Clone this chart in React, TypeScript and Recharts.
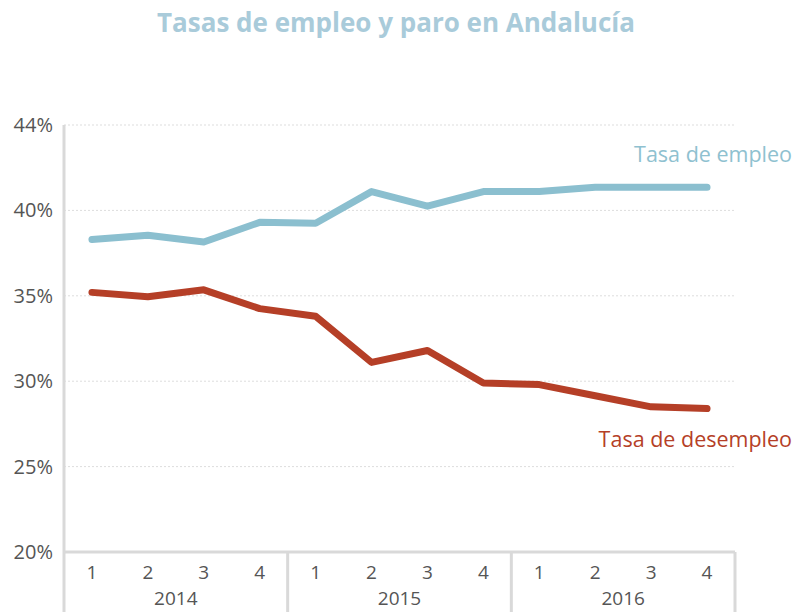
import { LineChart, Line, XAxis, YAxis, CartesianGrid, LabelList } from 'recharts';

// Quarterly rates (%), 2014 Q1 .. 2016 Q4
const quarters = ['1', '2', '3', '4', '1', '2', '3', '4', '1', '2', '3', '4'];
const years = ['2014', '2014', '2014', '2014', '2015', '2015', '2015', '2015', '2016', '2016', '2016', '2016'];
const employmentRate = [38.3, 38.55, 38.15, 39.3, 39.25, 41.1, 40.25, 41.1, 41.1, 41.35, 41.35, 41.35];
const unemploymentRate = [35.2, 34.95, 35.35, 34.25, 33.8, 31.1, 31.8, 29.9, 29.8, 29.15, 28.5, 28.4];

const yTicks = [20, 25, 30, 35, 40, 45];
const yTickLabels = ['20%', '25%', '30%', '35%', '40%', '44%'];

const seriesNames = { employment: 'Tasa de empleo', unemployment: 'Tasa de desempleo' };

const W = 792;
const H = 612;
const M = { top: 125, right: 57, bottom: 0, left: 0 };
const Y_AXIS_W = 64;
const PLOT_W = W - M.left - M.right - Y_AXIS_W;
const BAND = PLOT_W / quarters.length;

const FONT = '"Open Sans", sans-serif';
const BLUE = '#8bbfcf';
const RED = '#b53f27';
const AXIS = '#d9d9d9';
const TEXT = '#555555';

const data = quarters.map((q, i) => ({
  key: `${years[i]}-${q}`,
  quarter: q,
  year: years[i],
  empleo: employmentRate[i],
  desempleo: unemploymentRate[i],
}));

function YTick(props: any) {
  const { x, y, payload, index } = props;
  const label = yTickLabels[yTicks.indexOf(payload.value)] ?? yTickLabels[index];
  return (
    <text x={x - 3} y={y} dy={7} textAnchor="end" fill={TEXT} fontSize={20} fontFamily={FONT}>
      {label}
    </text>
  );
}

function QuarterTick(props: any) {
  const { x, y, index } = props;
  const seps: number[] = [];
  if (index % 4 === 0) seps.push(x - BAND / 2);
  if (index === data.length - 1) seps.push(x + BAND / 2);
  return (
    <g>
      {seps.map((sx) => (
        <line key={sx} x1={sx} x2={sx} y1={y - 8} y2={H} stroke={AXIS} strokeWidth={3} />
      ))}
      <text x={x} y={y} dy={19} textAnchor="middle" fill={TEXT} fontSize={19} fontFamily={FONT}>
        {data[index]?.quarter}
      </text>
    </g>
  );
}

function YearTick(props: any) {
  const { x, y, payload } = props;
  return (
    <text x={x} y={y} dy={10} textAnchor="middle" fill={TEXT} fontSize={19} fontFamily={FONT}>
      {payload.value}
    </text>
  );
}

function endLabel(text: string, color: string, dy: number) {
  return (props: any) => {
    const { x, y, index } = props;
    if (index !== data.length - 1) return null;
    return (
      <text x={x + 85} y={y + dy} textAnchor="end" fill={color} fontSize={21.5} fontFamily={FONT}>
        {text}
      </text>
    );
  };
}

export default function App() {
  return (
    <div style={{ position: 'absolute', left: 0, top: 0, width: W, height: H, background: '#fff' }}>
      <div
        style={{
          position: 'absolute',
          left: 0,
          top: 4,
          width: W,
          textAlign: 'center',
          fontFamily: FONT,
          fontWeight: 700,
          fontSize: 26,
          color: '#a9cbda',
        }}
      >
        Tasas de empleo y paro en Andalucía
      </div>
      <LineChart width={W} height={H} data={data} margin={M}>
        <CartesianGrid
          vertical={false}
          stroke="#dddddd"
          strokeDasharray="2 2"
          strokeWidth={1}
        />
        <YAxis
          width={Y_AXIS_W}
          domain={[20, 45]}
          ticks={yTicks}
          interval={0}
          axisLine={{ stroke: AXIS, strokeWidth: 3 }}
          tickLine={false}
          tick={<YTick />}
        />
        <XAxis
          dataKey="key"
          height={35}
          interval={0}
          padding={{ left: BAND / 2, right: BAND / 2 }}
          axisLine={{ stroke: AXIS, strokeWidth: 3 }}
          tickLine={false}
          tick={<QuarterTick />}
        />
        <XAxis
          xAxisId="year"
          dataKey="year"
          allowDuplicatedCategory={false}
          height={25}
          interval={0}
          padding={{ left: PLOT_W / 6, right: PLOT_W / 6 }}
          axisLine={false}
          tickLine={false}
          tick={<YearTick />}
        />
        <Line
          type="linear"
          dataKey="empleo"
          stroke={BLUE}
          strokeWidth={7}
          strokeLinecap="round"
          strokeLinejoin="round"
          dot={false}
          isAnimationActive={false}
        >
          <LabelList dataKey="empleo" content={endLabel(seriesNames.employment, '#8fc1d0', -25)} />
        </Line>
        <Line
          type="linear"
          dataKey="desempleo"
          stroke={RED}
          strokeWidth={7}
          strokeLinecap="round"
          strokeLinejoin="round"
          dot={false}
          isAnimationActive={false}
        >
          <LabelList dataKey="desempleo" content={endLabel(seriesNames.unemployment, RED, 38)} />
        </Line>
      </LineChart>
    </div>
  );
}
